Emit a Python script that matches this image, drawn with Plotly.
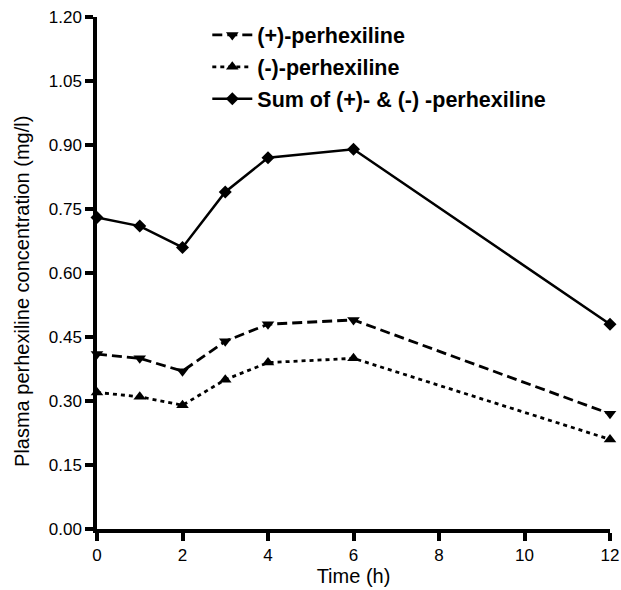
import plotly.graph_objects as go

time_h = [0, 1, 2, 3, 4, 6, 12]
plus_perhexiline = [0.41, 0.40, 0.37, 0.44, 0.48, 0.49, 0.27]
minus_perhexiline = [0.32, 0.31, 0.29, 0.35, 0.39, 0.40, 0.21]
sum_perhexiline = [0.73, 0.71, 0.66, 0.79, 0.87, 0.89, 0.48]

names = ["(+)-perhexiline", "(-)-perhexiline", "Sum of (+)- & (-) -perhexiline"]
x_ticks = [0, 2, 4, 6, 8, 10, 12]
y_ticks = [0.00, 0.15, 0.30, 0.45, 0.60, 0.75, 0.90, 1.05, 1.20]
y_title = "Plasma perhexiline concentration (mg/l)"
x_title = "Time (h)"

FONT = "Liberation Sans, Arial, Helvetica, sans-serif"

fig = go.Figure()
fig.add_trace(go.Scatter(
    x=time_h, y=plus_perhexiline, name=names[0], mode="lines+markers",
    line=dict(color="black", width=2.8, dash="10px,5px"),
    marker=dict(symbol="triangle-down", size=11, color="black"),
    cliponaxis=False, legendgroup="a"))
fig.add_trace(go.Scatter(
    x=time_h, y=minus_perhexiline, name=names[1], mode="lines+markers",
    line=dict(color="black", width=2.8, dash="4px,4px"),
    marker=dict(symbol="triangle-up", size=11, color="black"),
    cliponaxis=False, legendgroup="b"))
fig.add_trace(go.Scatter(
    x=time_h, y=sum_perhexiline, name=names[2], mode="lines+markers",
    line=dict(color="black", width=2.5),
    marker=dict(symbol="diamond", size=10, color="black"),
    cliponaxis=False, legendgroup="c"))

fig.update_layout(
    width=621, height=590,
    margin=dict(l=97, r=11, t=17, b=61),
    paper_bgcolor="white", plot_bgcolor="white",
    font=dict(family=FONT, size=17, color="black"),
    showlegend=True,
    legend=dict(
        x=0.215, y=1.005, xanchor="left", yanchor="top",
        bgcolor="rgba(0,0,0,0)",
        font=dict(family=FONT, size=21.5, color="black", weight="bold"),
        traceorder="grouped", tracegroupgap=1, itemwidth=40,
    ),
    annotations=[dict(
        text=y_title, textangle=-90, showarrow=False,
        xref="paper", yref="paper", x=0, y=0.463,
        xanchor="center", yanchor="middle", xshift=-75,
        font=dict(family=FONT, size=20, color="black"),
    )],
)
fig.update_xaxes(
    range=[0, 12], tickvals=x_ticks, ticktext=[str(v) for v in x_ticks],
    showgrid=False, zeroline=False, automargin=False,
    showline=True, linecolor="black", linewidth=3.5,
    ticks="outside", ticklen=8, tickwidth=3.5, tickcolor="black",
    tickfont=dict(size=17),
    title=dict(text=x_title, font=dict(size=20), standoff=4),
)
fig.update_yaxes(
    range=[0, 1.2], tickvals=y_ticks, ticktext=[f"{v:.2f}" for v in y_ticks],
    showgrid=False, zeroline=False, automargin=False,
    showline=True, linecolor="black", linewidth=3.5,
    ticks="outside", ticklen=8, tickwidth=3.5, tickcolor="black",
    tickfont=dict(size=17),
)

fig.write_html("out.html")
